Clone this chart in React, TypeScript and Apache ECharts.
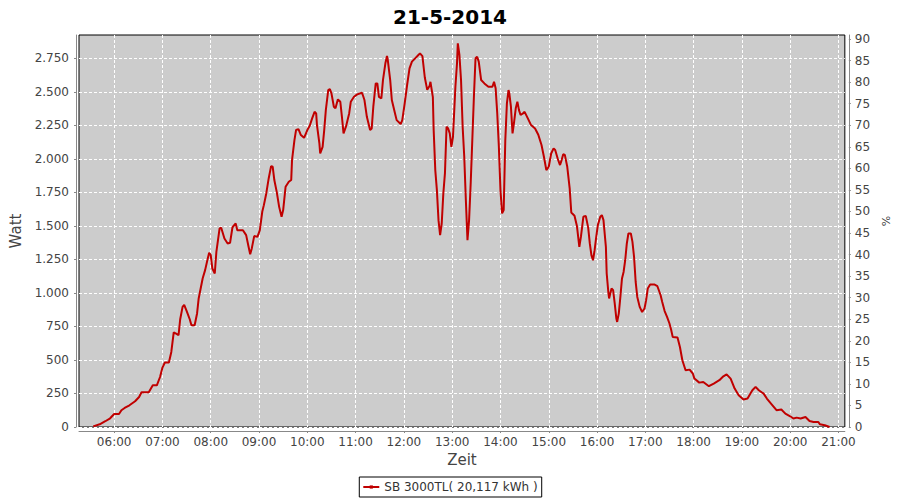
import React, { useEffect, useRef } from "react";
import * as echarts from "echarts";

const titleText = "21-5-2014";
const seriesName = "SB 3000TL( 20,117 kWh )";

const times = [
  "05:34","05:42","05:49","05:55","06:00","06:06","06:09","06:13","06:19","06:26",
  "06:31","06:34","06:43","06:48","06:53","06:57","07:00","07:03","07:08","07:11",
  "07:14","07:17","07:20","07:22","07:25","07:27","07:30","07:34","07:36","07:40",
  "07:43","07:45","07:50","07:53","07:56","07:58","08:00","08:02","08:05","08:07",
  "08:09","08:11","08:13","08:17","08:21","08:24","08:27","08:31","08:33","08:40",
  "08:44","08:47","08:49","08:51","08:54","08:58","09:01","09:04","09:06","09:09",
  "09:12","09:15","09:17","09:19","09:22","09:25","09:28","09:30","09:33","09:37",
  "09:40","09:41","09:44","09:46","09:49","09:52","09:56","10:00","10:03","10:06",
  "10:09","10:11","10:12","10:15","10:16","10:19","10:21","10:23","10:26","10:28",
  "10:30","10:33","10:35","10:38","10:41","10:43","10:45","10:48","10:52","10:54",
  "10:58","11:02","11:06","11:08","11:11","11:14","11:18","11:20","11:22","11:25",
  "11:27","11:29","11:32","11:34","11:37","11:39","11:40","11:43","11:45","11:49",
  "11:51","11:56","11:58","12:01","12:04","12:07","12:10","12:14","12:18","12:20",
  "12:23","12:26","12:29","12:32","12:33","12:36","12:37","12:39","12:41","12:43",
  "12:45","12:47","12:49","12:51","12:53","12:55","12:57","12:59","13:01","13:02",
  "13:04","13:06","13:07","13:09","13:11","13:13","13:15","13:17","13:19","13:21",
  "13:23","13:25","13:27","13:29","13:31","13:33","13:36","13:40","13:45","13:50",
  "13:52","13:54","13:56","13:58","14:00","14:02","14:04","14:06","14:08","14:10",
  "14:11","14:13","14:15","14:17","14:19","14:21","14:23","14:25","14:28","14:30",
  "14:34","14:38","14:43","14:47","14:51","14:54","14:57","15:00","15:03","15:06",
  "15:08","15:11","15:14","15:16","15:18","15:20","15:23","15:26","15:28","15:32",
  "15:35","15:38","15:40","15:43","15:46","15:49","15:51","15:53","15:55","15:57",
  "15:59","16:01","16:04","16:06","16:08","16:11","16:12","16:14","16:15","16:18",
  "16:20","16:22","16:24","16:25","16:27","16:29","16:31","16:33","16:35","16:37",
  "16:39","16:42","16:44","16:46","16:48","16:50","16:53","16:56","16:59","17:01",
  "17:03","17:06","17:11","17:15","17:19","17:21","17:24","17:27","17:30","17:32",
  "17:34","17:40","17:43","17:46","17:50","17:55","17:59","18:01","18:07","18:12",
  "18:19","18:25","18:32","18:37","18:41","18:46","18:51","18:56","19:02","19:07",
  "19:13","19:17","19:21","19:27","19:31","19:38","19:43","19:49","19:54","20:00",
  "20:04","20:08","20:13","20:19","20:24","20:29","20:35","20:37","20:43","20:49"
];

const watts = [
  5,20,43,65,97,97,125,142,162,192,
  224,259,259,311,311,373,443,481,481,560,
  705,697,685,802,896,911,866,802,759,759,
  847,959,1110,1170,1250,1299,1282,1182,1145,1306,
  1394,1481,1486,1406,1369,1374,1490,1518,1468,1468,
  1431,1344,1289,1332,1424,1418,1468,1605,1655,1742,
  1854,1946,1941,1842,1754,1642,1568,1618,1792,1829,
  1842,1991,2140,2215,2222,2178,2157,2215,2247,2302,
  2351,2339,2252,2116,2041,2090,2215,2364,2513,2521,
  2489,2389,2377,2444,2426,2314,2190,2240,2339,2426,
  2463,2481,2489,2493,2439,2314,2215,2227,2389,2563,
  2563,2463,2451,2588,2713,2767,2737,2588,2439,2339,
  2289,2260,2289,2414,2551,2675,2725,2750,2775,2787,
  2767,2607,2515,2545,2575,2460,2215,1916,1767,1543,
  1431,1518,1742,1892,2240,2227,2190,2090,2165,2289,
  2538,2713,2862,2775,2588,2240,2016,1692,1394,1543,
  1817,2140,2463,2750,2762,2725,2588,2563,2538,2538,
  2575,2526,2339,2090,1767,1593,1618,2140,2414,2513,
  2489,2389,2190,2277,2377,2426,2364,2327,2339,2351,
  2302,2252,2227,2180,2103,2016,1916,1941,2040,2078,
  2066,2004,1954,1991,2035,2030,1941,1780,1600,1576,
  1500,1344,1420,1568,1575,1487,1369,1282,1244,1319,
  1418,1506,1568,1580,1543,1344,1145,1008,959,1033,
  1020,921,809,784,846,970,1108,1157,1244,1369,
  1444,1444,1381,1269,1082,970,896,858,884,946,
  1033,1063,1063,1050,983,933,865,821,772,727,
  672,667,597,498,423,428,399,361,331,336,
  304,324,349,378,393,361,287,237,205,212,
  274,299,274,249,212,162,125,130,100,80,
  63,70,63,75,45,37,37,20,13,0
];

const hourTicks = ["06:00","07:00","08:00","09:00","10:00","11:00","12:00","13:00","14:00","15:00","16:00","17:00","18:00","19:00","20:00","21:00"];
const wattTicks = [0,250,500,750,1000,1250,1500,1750,2000,2250,2500,2750];
const pctTicks = [0,5,10,15,20,25,30,35,40,45,50,55,60,65,70,75,80,85,90];

const toMin = (s: string) => {
  const [h, m] = s.split(":").map(Number);
  return h * 60 + m;
};
const fmtTime = (v: number) => {
  const h = Math.floor(v / 60);
  const m = Math.round(v - h * 60);
  return String(h).padStart(2, "0") + ":" + String(m).padStart(2, "0");
};
const fmtThousands = (v: number) => String(Math.round(v)).replace(/\B(?=(\d{3})+(?!\d))/g, ".");

const FONT = "DejaVu Sans";

export default function App() {
  const ref = useRef<HTMLDivElement>(null);
  useEffect(() => {
    if (!ref.current) return;
    const chart = echarts.init(ref.current, null, { renderer: "svg" });
    const xTickVals = hourTicks.map(toMin);
    const data = times.map((t, i) => [toMin(t), watts[i]]);
    chart.setOption({
      animation: false,
      backgroundColor: "#ffffff",
      textStyle: { fontFamily: FONT },
      title: {
        text: titleText,
        left: "center",
        top: 2,
        textStyle: { fontFamily: FONT, fontSize: 20, fontWeight: "bold", color: "#000" },
      },
      legend: {
        data: [seriesName],
        left: "center",
        top: 477,
        padding: [4, 4, 4, 3],
        borderColor: "#000",
        borderWidth: 1,
        itemWidth: 16,
        itemHeight: 4,
        textStyle: { fontFamily: FONT, fontSize: 12, color: "#333" },
      },
      grid: {
        left: 79,
        right: 52,
        top: 35,
        bottom: 73,
        show: true,
        backgroundColor: "#CCCCCC",
        borderColor: "#000",
        borderWidth: 1,
      },
      xAxis: {
        type: "value",
        min: 316.3,
        max: 1267.9,
        offset: 4,
        name: "Zeit",
        nameLocation: "middle",
        nameGap: 21,
        nameTextStyle: { fontFamily: FONT, fontSize: 15, color: "#444" },
        axisLine: { show: true, onZero: false, lineStyle: { color: "#888", width: 1 } },
        axisTick: { show: true, length: 2, customValues: xTickVals, lineStyle: { color: "#888" } },
        axisLabel: {
          customValues: xTickVals,
          formatter: (v: number) => fmtTime(v),
          margin: 5,
          fontFamily: FONT,
          fontSize: 12,
          color: "#444",
        },
        splitLine: { show: true, lineStyle: { color: "#ffffff", type: [3, 2], width: 1 } },
      },
      yAxis: [
        {
          type: "value",
          position: "left",
          min: 0,
          max: 2924,
          offset: 3,
          name: "Watt",
          nameLocation: "middle",
          nameGap: 47,
          nameTextStyle: { fontFamily: FONT, fontSize: 15, color: "#444" },
          axisLine: { show: true, lineStyle: { color: "#888", width: 1 } },
          axisTick: { show: true, length: 2, customValues: wattTicks, lineStyle: { color: "#888" } },
          axisLabel: {
            customValues: wattTicks,
            formatter: (v: number) => fmtThousands(v),
            margin: 7,
            fontFamily: FONT,
            fontSize: 12,
            color: "#444",
          },
          splitLine: { show: true, lineStyle: { color: "#ffffff", type: [3, 2], width: 1 } },
        },
        {
          type: "value",
          position: "right",
          min: 0,
          max: 90.93,
          offset: 4,
          name: "%",
          nameLocation: "middle",
          nameGap: 24,
          nameTextStyle: { fontFamily: FONT, fontSize: 11, color: "#444", padding: [0, 0, 0, 20] },
          axisLine: { show: true, lineStyle: { color: "#888", width: 1 } },
          axisTick: { show: true, length: 2, customValues: pctTicks, lineStyle: { color: "#888" } },
          axisLabel: {
            customValues: pctTicks,
            margin: 6,
            fontFamily: FONT,
            fontSize: 12,
            color: "#444",
          },
          splitLine: { show: false },
        },
      ],
      series: [
        {
          name: seriesName,
          type: "line",
          yAxisIndex: 0,
          data,
          showSymbol: false,
          symbol: "rect",
          symbolSize: 3,
          lineStyle: { color: "#C00000", width: 2 },
          itemStyle: { color: "#C00000" },
        },
      ],
    });
    return () => chart.dispose();
  }, []);
  return (
    <div
      ref={ref}
      style={{ position: "fixed", left: 0, top: 0, width: 900, height: 500 }}
    />
  );
}
